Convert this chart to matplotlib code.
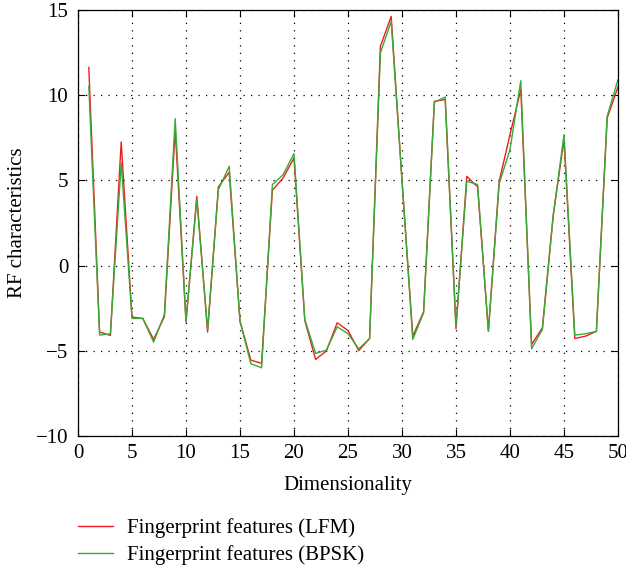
import matplotlib
matplotlib.use("Agg")
import matplotlib.pyplot as plt
import numpy as np

dims = list(range(1, 51))
lfm = [11.64, -3.91, -4.11, 7.26, -3.03, -3.11, -4.34, -3.01, 7.98, -3.33,
       4.07, -3.91, 4.62, 5.48, -3.27, -5.56, -5.75, 4.42, 5.15, 6.32,
       -3.23, -5.52, -5.02, -3.37, -3.82, -5.0, -4.29, 12.88, 14.64, 5.0,
       -4.15, -2.72, 9.65, 9.75, -3.72, 5.24, 4.62, -3.86, 4.95, 7.69,
       10.33, -4.64, -3.66, 2.95, 7.4, -4.29, -4.15, -3.87, 8.67, 10.49]
bpsk = [10.53, -4.09, -4.01, 6.03, -3.11, -3.11, -4.5, -2.88, 8.63, -3.23,
        3.87, -3.76, 4.46, 5.83, -3.27, -5.77, -6.01, 4.76, 5.34, 6.58,
        -3.17, -5.17, -4.97, -3.6, -4.01, -4.9, -4.29, 12.49, 14.34, 5.0,
        -4.34, -2.78, 9.59, 9.9, -3.56, 4.95, 4.76, -3.86, 4.81, 6.81,
        10.86, -4.89, -3.76, 2.9, 7.69, -4.09, -4.01, -3.87, 8.77, 10.92]
xticks = list(range(0, 51, 5))
yticks = list(range(-10, 16, 5))

plt.rcParams['font.family'] = ['Liberation Serif', 'DejaVu Serif']
plt.rcParams['axes.unicode_minus'] = True

fig = plt.figure(figsize=(6.26, 5.69), dpi=100)
ax = fig.add_axes([0.1246, 0.2343, 0.8626, 0.7477])

l1, = ax.plot(dims, lfm, color='#ee1c24', lw=1.0, label='Fingerprint features (LFM)')
l2, = ax.plot(dims, bpsk, color='#3aaa35', lw=1.0, label='Fingerprint features (BPSK)')

ax.set_xlim(0, 50)
ax.set_ylim(-10, 15)
ax.set_xticks(xticks)
ax.set_yticks(yticks)
ax.tick_params(direction='in', top=True, right=True, labelsize=15, length=5, width=0.8)
ax.tick_params(axis='x', pad=6)
ax.tick_params(axis='y', pad=7)
ax.grid(True, linestyle=(0, (1, 5)), color='black', linewidth=0.9)
for s in ax.spines.values():
    s.set_linewidth(0.9)
ax.set_xlabel('Dimensionality', fontsize=15, labelpad=9)
ax.set_ylabel('RF characteristics', fontsize=15, labelpad=6)

fig.legend(handles=[l1, l2], loc='upper left', bbox_to_anchor=(0.1246, 0.0897), frameon=False,
           fontsize=15, handlelength=1.68, handletextpad=0.67, labelspacing=0.34,
           borderaxespad=0, borderpad=0)

fig.savefig('out.png', dpi=100)
